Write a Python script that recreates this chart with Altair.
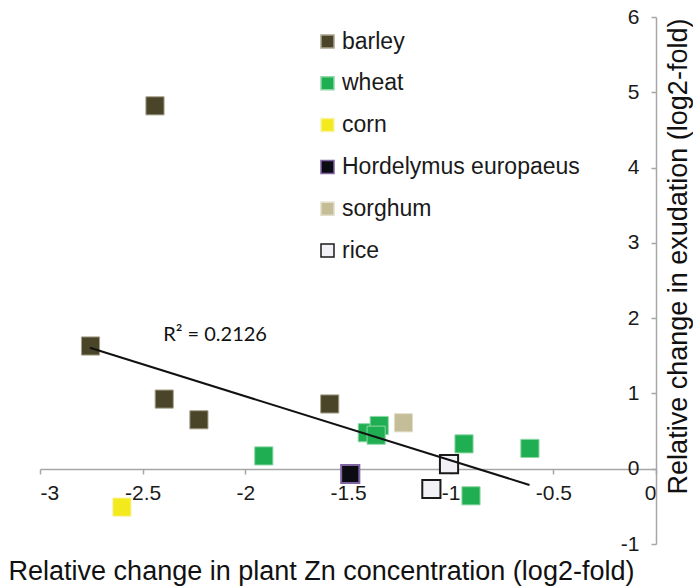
import altair as alt
import pandas as pd

# Species order (legend order) and their marker styles
species = ["barley", "wheat", "corn", "Hordelymus europaeus", "sorghum", "rice"]
fill_colors = ["#4a4529", "#1fae52", "#f2ea1c", "#0b0b12", "#c4bd97", "#f2f2f6"]
stroke_colors = ["#a8a48e", "#8fd8a6", "#f8f3a0", "#8064a2", "#e2dec8", "#1a1a1a"]

# Observations: relative change in plant Zn (x) vs. relative change in exudation (y), log2-fold
point_species = [
    "barley", "barley", "barley", "barley", "barley",
    "wheat", "wheat", "wheat", "wheat", "wheat", "wheat", "wheat",
    "corn",
    "Hordelymus europaeus",
    "sorghum",
    "rice", "rice",
]
zn_change = [
    -2.44, -2.754, -2.395, -2.226, -1.589,
    -1.910, -1.406, -1.348, -1.363, -0.935, -0.901, -0.614,
    -2.601,
    -1.489,
    -1.230,
    -1.008, -1.094,
]
exudation_change = [
    4.82, 1.63, 0.925, 0.65, 0.86,
    0.17, 0.478, 0.574, 0.445, 0.33, -0.36, 0.27,
    -0.51,
    -0.07,
    0.61,
    0.06, -0.27,
]

# Linear trend line end points
trend_x = [-2.757, -0.616]
trend_y = [1.607, -0.216]

x_ticks = [-3, -2.5, -2, -1.5, -1, -0.5, 0]
y_ticks = [-1, 0, 1, 2, 3, 4, 5, 6]

points = pd.DataFrame({
    "species": point_species,
    "zn": zn_change,
    "exu": exudation_change,
    "sw": [2 if s in ("rice", "Hordelymus europaeus") else 1 for s in point_species],
})
trend = pd.DataFrame({"zn": trend_x, "exu": trend_y})
note = pd.DataFrame({"zn": [-2.40], "exu": [1.78], "label": ["R\u00b2 = 0.2126"]})

FONT = "Liberation Sans"
AXIS_GRAY = "#a6a6a6"

x_scale = alt.Scale(domain=[-3, 0], nice=False, zero=False)
y_scale = alt.Scale(domain=[-1, 6], nice=False, zero=False)

x_axis = alt.Axis(
    values=x_ticks, labelExpr="'' + datum.value", grid=False,
    offset=-75, domainColor=AXIS_GRAY, domainWidth=1.5, tickColor=AXIS_GRAY,
    tickWidth=1.5, tickSize=5, labelPadding=8, labelFont=FONT, labelFontSize=21,
    labelColor="#1a1a1a", title="Relative change in plant Zn concentration (log2-fold)",
    titleFont=FONT, titleFontSize=27, titleFontWeight="normal", titleColor="#111111",
    titleX=281, titleY=110, titleBaseline="alphabetic", titleAlign="center",
)
y_axis = alt.Axis(
    orient="left", values=y_ticks, labelExpr="'' + datum.value", grid=False,
    offset=-616, domainColor=AXIS_GRAY, domainWidth=1.5, tickColor=AXIS_GRAY,
    tickWidth=1.5, tickSize=5, labelPadding=12, labelFont=FONT, labelFontSize=21,
    labelColor="#1a1a1a", title="Relative change in exudation (log2-fold)",
    titleFont=FONT, titleFontSize=27, titleFontWeight="normal", titleColor="#111111",
    titleX=22, titleY=239, titleAngle=270, titleBaseline="middle", titleAlign="center",
)

legend = alt.Legend(
    orient="none", legendX=276, legendY=13, title=None, symbolType="square",
    symbolSize=169, symbolStrokeWidth=1.5, labelFont=FONT, labelFontSize=23,
    labelColor="#1a1a1a", labelLimit=400, rowPadding=17.8, labelOffset=3, padding=0,
)

scatter = alt.Chart(points).mark_point(shape="square", filled=True, size=330, opacity=1).encode(
    x=alt.X("zn:Q", scale=x_scale, axis=x_axis),
    y=alt.Y("exu:Q", scale=y_scale, axis=y_axis),
    fill=alt.Fill("species:N", scale=alt.Scale(domain=species, range=fill_colors), legend=legend),
    stroke=alt.Stroke("species:N", scale=alt.Scale(domain=species, range=stroke_colors), legend=legend),
    strokeWidth=alt.StrokeWidth("sw:Q", scale=None, legend=None),
)

trend_line = alt.Chart(trend).mark_line(color="#111111", strokeWidth=2).encode(
    x=alt.X("zn:Q", scale=x_scale),
    y=alt.Y("exu:Q", scale=y_scale),
)

r2_label = alt.Chart(note).mark_text(
    align="left", baseline="middle", font="Lato", fontSize=20, color="#111111"
).encode(
    x=alt.X("zn:Q", scale=x_scale),
    y=alt.Y("exu:Q", scale=y_scale),
    text="label:N",
)

chart = alt.layer(scatter, trend_line, r2_label).properties(
    width=616, height=527,
    autosize=alt.AutoSizeParams(type="none"),
    padding={"left": 40, "top": 17, "right": 37, "bottom": 42},
    background="white",
).configure_view(stroke=None)

chart.save("out.html", embed_options={"renderer": "svg", "actions": False})
